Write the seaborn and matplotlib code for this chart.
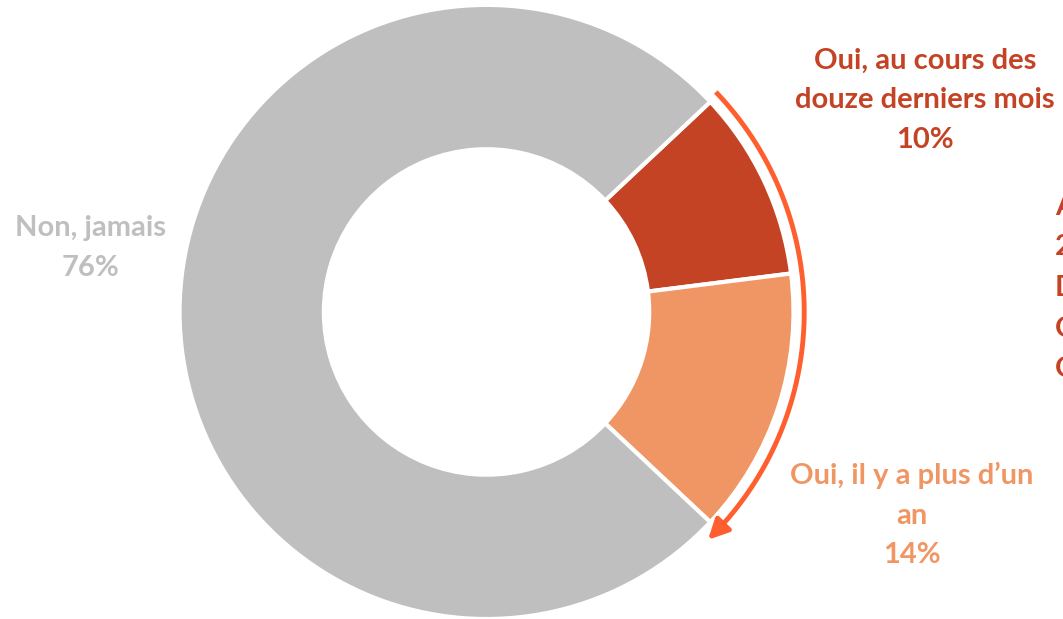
import numpy as np
import matplotlib
matplotlib.use("Agg")
import matplotlib.pyplot as plt
import seaborn as sns

# data
categories = ["Oui, au cours des\ndouze derniers mois", "Oui, il y a plus d\u2019un\nan", "Non, jamais"]
shares = [10, 14, 76]
colors = ["#C44325", "#F09664", "#BFBFBF"]
side_note = ["Au total", "24%", "D\u00e9j\u00e0", "Ont", "Oui"]

sns.set_theme(style="white")
plt.rcParams["font.family"] = ["Lato", "DejaVu Sans"]

fig = plt.figure(figsize=(10.63, 6.19), dpi=100)
ax = fig.add_axes([0, 0, 1, 1])

ax.pie(shares, colors=colors, startangle=43.2, counterclock=False,
       radius=1.0, center=(0, 0), frame=True,
       wedgeprops=dict(width=0.47, edgecolor="white", linewidth=3))

# bracket arrow around the "Oui" slices
arc_ang = np.radians(np.linspace(43.8, -43.5, 200))
arc_r = 1.035
ax.plot(arc_r * np.cos(arc_ang), arc_r * np.sin(arc_ang), color="#FF5F2E", lw=3.5,
        solid_capstyle="butt")
end = np.radians(-45.8)
prev = np.radians(-43.0)
ax.annotate("", xy=(arc_r * np.cos(end), arc_r * np.sin(end)),
            xytext=(arc_r * np.cos(prev), arc_r * np.sin(prev)),
            arrowprops=dict(arrowstyle="-|>,head_length=1.0,head_width=0.5",
                            color="#FF5F2E", lw=3.5, shrinkA=0, shrinkB=0))

# labels
lbl = dict(fontsize=21, fontweight="bold", ha="center", va="center", linespacing=1.65)
ax.text(1.428, 0.69, f"{categories[0]}\n{shares[0]}%", color=colors[0], **lbl)
ax.text(1.386, -0.661, f"{categories[1]}\n{shares[1]}%", color=colors[1], **lbl)
ax.text(-1.29, 0.208, f"{categories[2]}\n{shares[2]}%", color=colors[2], **lbl)
ax.text(1.852, 0.078, "\n".join(side_note), color=colors[0], fontsize=21,
        fontweight="bold", ha="left", va="center", linespacing=1.7, clip_on=False)

ax.set_xlim(-1.585, 1.878)
ax.set_ylim(-1.0, 1.016)
ax.set_aspect("auto")
ax.axis("off")

fig.savefig("out.png", dpi=100, facecolor="white")
